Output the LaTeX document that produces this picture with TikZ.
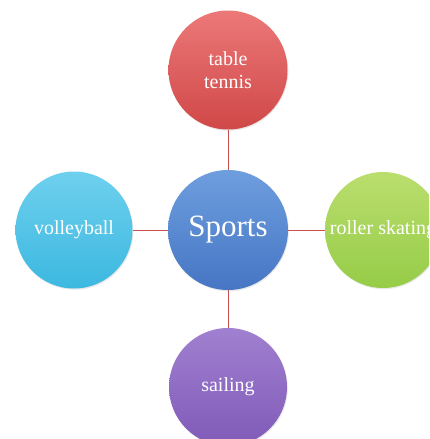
\documentclass[tikz,border=0pt]{standalone}
\usepackage{fontspec}
\setmainfont{Liberation Serif}
\usetikzlibrary{shadows}
\definecolor{linkred}{HTML}{C8504C}
\tikzset{
  bubble/.style={circle, minimum size=#1, inner sep=0pt, text=white, align=center,
    font=\fontsize{20}{23}\selectfont, drop shadow={opacity=0.18, shadow xshift=0.8pt, shadow yshift=-1.2pt}},
  link/.style={draw=linkred, line width=1pt},
}
\begin{document}
\begin{tikzpicture}[x=1pt,y=-1pt]
\useasboundingbox (0,0) rectangle (429,439);
\clip (0,0) rectangle (429,439);
\fill[white] (0,0) rectangle (429,439);
\node[bubble=119pt, top color={rgb,255:red,236;green,120;blue,120}, bottom color={rgb,255:red,208;green,72;blue,72}] (tt) at (228,70) {table\\tennis};
\node[bubble=120pt, top color={rgb,255:red,110;green,158;blue,222}, bottom color={rgb,255:red,70;green,118;blue,196}, font=\fontsize{31}{35}\selectfont] (sp) at (228,230) {Sports};
\node[bubble=117pt, top color={rgb,255:red,110;green,208;blue,238}, bottom color={rgb,255:red,60;green,184;blue,224}] (vb) at (74,230) {volleyball};
\node[bubble=116pt, top color={rgb,255:red,186;green,222;blue,110}, bottom color={rgb,255:red,150;green,204;blue,72}] (rs) at (383,230) {\raisebox{4pt}{roller skating}};
\node[bubble=118pt, top color={rgb,255:red,160;green,128;blue,208}, bottom color={rgb,255:red,128;green,90;blue,184}] (sa) at (228,387) {sailing};
\draw[link] (sp) -- (tt);
\draw[link] (sp) -- (vb);
\draw[link] (sp) -- (rs);
\draw[link] (sp) -- (sa);
\end{tikzpicture}
\end{document}
